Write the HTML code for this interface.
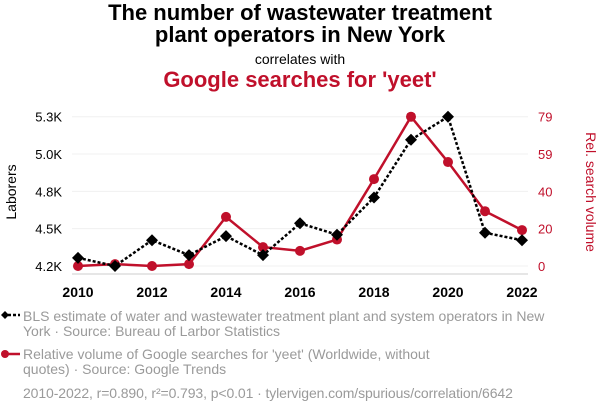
<!DOCTYPE html>
<html><head><meta charset="utf-8"><style>
body{margin:0;background:#fff;font-family:"Liberation Sans",sans-serif;}
#wrap{position:relative;width:600px;height:414px;overflow:hidden;}
.t{position:absolute;left:0;width:600px;text-align:center;}
.lg{position:absolute;left:23px;font-size:14px;color:#9a9a9a;line-height:15px;}
</style></head><body><div id="wrap">
<div class="t" style="top:2px;font-size:22px;font-weight:bold;line-height:22px;color:#000">The number of wastewater treatment<br>plant operators in New York</div>
<div class="t" style="top:51px;font-size:14px;color:#000">correlates with</div>
<div class="t" style="top:67px;font-size:22px;font-weight:bold;color:#c0102b">Google searches for 'yeet'</div>
<svg id="svg" width="600" height="414" style="position:absolute;left:0;top:0"></svg>
<div class="lg" style="top:309px;">BLS estimate of water and wastewater treatment plant and system operators in New<br>York · Source: Bureau of Larbor Statistics</div>
<div class="lg" style="top:347px;">Relative volume of Google searches for 'yeet' (Worldwide, without<br>quotes) · Source: Google Trends</div>
<div class="lg" style="top:386px;left:23px;letter-spacing:-0.1px">2010-2022, r=0.890, r²=0.793, p&lt;0.01 · tylervigen.com/spurious/correlation/6642</div>
</div>
<script>
const years=[2010,2011,2012,2013,2014,2015,2016,2017,2018,2019,2020,2021,2022];
const laborers=[4260,4200,4390,4280,4420,4280,4515,4430,4705,5130,5300,4445,4390];
const searches=[0,1,0,1,26,10,8,14,46,79,55,29,19];
const leftTicks=["4.2K","4.5K","4.8K","5.0K","5.3K"];
const rightTicks=["0","20","40","59","79"];
const xTicks=[2010,2012,2014,2016,2018,2020,2022];
const NS="http://www.w3.org/2000/svg",svg=document.getElementById('svg');
const X0=78,X1=522,Y0=266,Y1=116.7;
const x=v=>X0+(v-2010)/12*(X1-X0);
const yl=v=>Y0-(v-4200)/1100*(Y0-Y1);
const yr=v=>Y0-v/79*(Y0-Y1);
function mk(t,a){const e=document.createElementNS(NS,t);for(const k in a)e.setAttribute(k,a[k]);svg.appendChild(e);return e;}
leftTicks.forEach((s,i)=>{const yy=Y0-i*(Y0-Y1)/4;
 const g=mk('line',{x1:X0-6,x2:X1+6,y1:yy,y2:yy,stroke:'#f0f0f0'});
 
 const a=mk('text',{x:62,y:yy+5,'text-anchor':'end','font-size':13,fill:'#000'});a.textContent=s;
 
 const b=mk('text',{x:538,y:yy+5,'font-size':13,fill:'#c0102b'});b.textContent=rightTicks[i];
 
});
const ax=mk('line',{x1:X0-6,x2:X1+6,y1:274,y2:274,stroke:'#ccc'});

xTicks.forEach(v=>{const t=mk('text',{x:x(v),y:297,'text-anchor':'middle','font-size':14,'font-weight':'bold',fill:'#000'});t.textContent=v;
 });
const l1=mk('text',{transform:'translate(16,192) rotate(-90)','text-anchor':'middle','font-size':14,fill:'#000'});l1.textContent='Laborers';

const l2=mk('text',{transform:'translate(586,192) rotate(90)','text-anchor':'middle','font-size':14,fill:'#c0102b'});l2.textContent='Rel. search volume';

const rp=mk('polyline',{points:years.map((v,i)=>x(v)+','+yr(searches[i])).join(' '),fill:'none',stroke:'#c0102b','stroke-width':2.5});

years.forEach((v,i)=>{const c=mk('circle',{cx:x(v),cy:yr(searches[i]),r:5,fill:'#c0102b'});
 });
const bp=mk('polyline',{points:years.map((v,i)=>x(v)+','+yl(laborers[i])).join(' '),fill:'none',stroke:'#000','stroke-width':2.5,'stroke-dasharray':'3 2'});

years.forEach((v,i)=>{const cx=x(v),cy=yl(laborers[i]);const d=mk('polygon',{points:`${cx},${cy-6} ${cx+6},${cy} ${cx},${cy+6} ${cx-6},${cy}`,fill:'#000'});
 });
const m1=mk('line',{x1:3,x2:20,y1:315,y2:315,stroke:'#000','stroke-width':2.5,'stroke-dasharray':'3 2'});

const m1d=mk('polygon',{points:'5,311 9,315 5,319 1,315',fill:'#000'});

const m2=mk('line',{x1:3,x2:20,y1:354,y2:354,stroke:'#c0102b','stroke-width':2.5});

const m2c=mk('circle',{cx:5,cy:354,r:4,fill:'#c0102b'});

</script></body></html>
